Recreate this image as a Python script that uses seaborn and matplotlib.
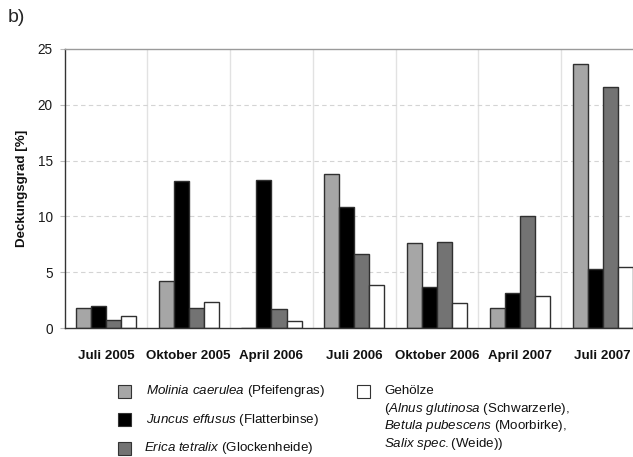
import matplotlib
matplotlib.use("Agg")
import matplotlib.pyplot as plt
from matplotlib.patches import Rectangle
import seaborn as sns
import pandas as pd

# Sampling dates
categories = ["Juli 2005", "Oktober 2005", "April 2006", "Juli 2006",
              "Oktober 2006", "April 2007", "Juli 2007"]

# Cover values (Deckungsgrad in %) per species group
molinia = [1.8, 4.25, 0.0, 13.8, 7.6, 1.8, 23.65]
juncus = [2.0, 13.2, 13.3, 10.8, 3.7, 3.15, 5.3]
erica = [0.7, 1.8, 1.7, 6.65, 7.75, 10.0, 21.6]
gehoelze = [1.05, 2.35, 0.6, 3.85, 2.25, 2.85, 5.45]

series_names = ["Molinia", "Juncus", "Erica", "Gehölze"]
series_colors = ["#a6a6a6", "#000000", "#737373", "#ffffff"]

y_ticks = [0, 5, 10, 15, 20, 25]

sns.set_theme(style="white")
plt.rcParams["font.family"] = ["Liberation Sans", "DejaVu Sans"]
plt.rcParams["mathtext.fontset"] = "custom"
plt.rcParams["mathtext.rm"] = "Liberation Sans"
plt.rcParams["mathtext.it"] = "Liberation Sans:italic"
plt.rcParams["mathtext.bf"] = "Liberation Sans:bold"

df = pd.DataFrame({
    "Termin": categories * 4,
    "Art": sum([[n] * len(categories) for n in series_names], []),
    "Deckung": molinia + juncus + erica + gehoelze,
})

W, H = 633, 457
fig = plt.figure(figsize=(W / 100, H / 100), dpi=100)
ax_left, ax_right, ax_top, ax_bottom = 64.5, 633.0, 49.0, 328.0
ax = fig.add_axes([ax_left / W, 1 - ax_bottom / H,
                   (ax_right - ax_left) / W, (ax_bottom - ax_top) / H])

# Category separators and dashed horizontal grid
for xv in [0.5, 1.5, 2.5, 3.5, 4.5, 5.5, 6.5]:
    ax.axvline(xv, color="#e2e2e2", lw=1.0, zorder=0)
for yv in y_ticks[1:-1]:
    ax.axhline(yv, color="#d4d4d4", lw=0.8, ls=(0, (4, 3)), zorder=0)

sns.barplot(data=df, x="Termin", y="Deckung", hue="Art",
            order=categories, hue_order=series_names,
            palette=dict(zip(series_names, series_colors)),
            width=0.725, edgecolor="#303030", linewidth=1.0,
            legend=False, ax=ax, zorder=2)

cat_px = 82.8
ax.set_xlim(-0.5, -0.5 + (ax_right - ax_left) / cat_px)
ax.set_ylim(0, 25)
ax.set_yticks(y_ticks)
ax.set_yticklabels([str(v) for v in y_ticks], fontsize=9.8, color="#1a1a1a")
ax.set_xticks(range(len(categories)))
ax.set_xticklabels(categories, fontsize=9.6, fontweight="bold", color="#111111")
ax.tick_params(axis="x", length=0, pad=16)
ax.tick_params(axis="y", length=3.5, width=0.8, color="#bbbbbb", pad=5, left=True)
ax.set_xlabel("")
ax.set_ylabel("Deckungsgrad [%]", fontsize=9.6, fontweight="bold", color="#111111")
ax.yaxis.set_label_coords((28.5 - ax_left) / (ax_right - ax_left), 0.5)

for side in ["left", "bottom"]:
    ax.spines[side].set_color("#333333")
    ax.spines[side].set_linewidth(1.0)
ax.spines["top"].set_color("#9a9a9a")
ax.spines["top"].set_linewidth(1.0)
ax.spines["right"].set_visible(False)

fig.text(8 / W, 1 - 17 / H, "b)", fontsize=14, va="center", ha="left")

# Legend below the plot
def fy(py):
    return 1 - py / H

def swatch(px, py, color, size=13):
    fig.patches.append(Rectangle((px / W, fy(py + size / 2)), size / W, size / H,
                                 transform=fig.transFigure, facecolor=color,
                                 edgecolor="#333333", linewidth=0.8))

legend_left = [
    ("$\\mathit{Molinia\\ caerulea}$ (Pfeifengras)", 391, 146),
    ("$\\mathit{Juncus\\ effusus}$ (Flatterbinse)", 419.5, 146),
    ("$\\mathit{Erica\\ tetralix}$ (Glockenheide)", 448, 144.5),
]
for (label, py, tx), col in zip(legend_left, series_colors[:3]):
    swatch(118, py, col)
    fig.text(tx / W, fy(py), label, fontsize=9.6, va="center", ha="left", color="#111111")

swatch(357, 391, series_colors[3])
legend_right = [
    ("Gehölze", 391),
    ("($\\mathit{Alnus\\ glutinosa}$ (Schwarzerle),", 408.7),
    ("$\\mathit{Betula\\ pubescens}$ (Moorbirke),", 426.5),
    ("$\\mathit{Salix\\ spec.}$(Weide))", 443.5),
]
for label, py in legend_right:
    fig.text(384 / W, fy(py), label, fontsize=9.6, va="center", ha="left", color="#111111")

fig.savefig("out.png", dpi=100)
